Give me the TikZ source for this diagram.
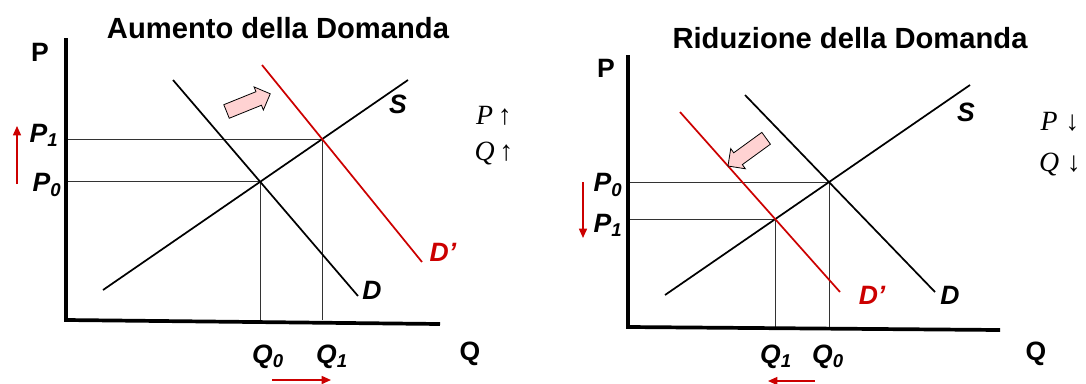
\documentclass[tikz,border=0pt]{standalone}
\usepackage{fontspec}
\setmainfont{Liberation Sans}
\newfontfamily\effectfont{Liberation Serif}
\usetikzlibrary{arrows.meta, shapes.arrows}

\begin{document}
\begin{tikzpicture}[
  x=0.0265cm, y=-0.0265cm,
  axis/.style={line width=2.8pt},
  curve/.style={line width=1.3pt},
  shifted/.style={curve, draw=red!80!black},
  guide/.style={line width=0.6pt, draw=black!80},
  move/.style={line width=1.1pt, draw=red!80!black,
    -{Triangle[length=7pt, width=6pt]}},
  title/.style={font=\fontsize{22}{26}\selectfont\bfseries, inner sep=0pt},
  axlab/.style={font=\fontsize{20}{24}\selectfont\bfseries, inner sep=0pt},
  lab/.style={font=\fontsize{20}{24}\selectfont\bfseries\itshape, inner sep=0pt},
  effect/.style={font=\fontsize{21}{24}\selectfont\effectfont, inner sep=0pt},
  shiftarrow/.style={single arrow, draw=black, fill=pink!70, line width=0.6pt,
    minimum height=1.25cm, minimum width=0.66cm, inner sep=0.16cm,
    single arrow head extend=0.12cm}
]
  \useasboundingbox (0,0) rectangle (1086,383);

  % Aumento della domanda
  \node[title] (title1) at (278,28) {Aumento della Domanda};
  \coordinate (O1) at (66,320);
  \path (103,290) coordinate (s1a) (408,80) coordinate (s1b)
        (173,80) coordinate (d1a) (358,296) coordinate (d1b)
        (262,65) coordinate (n1a) (422,262) coordinate (n1b);
  \coordinate (E10) at (intersection of s1a--s1b and d1a--d1b);
  \coordinate (E11) at (intersection of s1a--s1b and n1a--n1b);
  \draw[guide] (E10 -| O1) -- (E10) -- (E10 |- O1);
  \draw[guide] (E11 -| O1) -- (E11) -- (E11 |- O1);
  \draw[curve] (s1a) -- (s1b);
  \draw[curve] (d1a) -- (d1b);
  \draw[shifted] (n1a) -- (n1b);
  \draw[axis] (66,38) coordinate (y1) -- (O1) -- (440,324) coordinate (x1);

  \node[axlab] (P1ax) at (40,52) {P};
  \node[axlab] (Q1ax) at (470,354) {Q};
  \node[lab] (S1) at (398,104) {S};
  \node[lab] (D1) at (372,290) {D};
  \node[lab, text=red!80!black] (N1) at (443,252) {D'};
  \node[lab] (P1one) at (44,135) {P\textsubscript{1}};
  \node[lab] (P1zero) at (47,185) {P\textsubscript{0}};
  \node[lab] (Q1zero) at (268,357) {Q\textsubscript{0}};
  \node[lab] (Q1one) at (332,357) {Q\textsubscript{1}};
  \draw[move] (17,184) coordinate (pm1a) -- (17,126) coordinate (pm1b);
  \draw[move] (272,380) coordinate (qm1a) -- (331,380) coordinate (qm1b);
  \node[shiftarrow, rotate=22] (push1) at (245,104) {};
  \node[effect] (eff1p) at (494,116) {\textit{P}\,↑};
  \node[effect] (eff1q) at (494,154) {\textit{Q}\,↑};

  % Riduzione della domanda
  \node[title] (title2) at (850,38) {Riduzione della Domanda};
  \coordinate (O2) at (628,327);
  \path (665,295) coordinate (s2a) (970,85) coordinate (s2b)
        (745,95) coordinate (d2a) (935,292) coordinate (d2b)
        (680,112) coordinate (n2a) (840,292) coordinate (n2b);
  \coordinate (E20) at (intersection of s2a--s2b and d2a--d2b);
  \coordinate (E21) at (intersection of s2a--s2b and n2a--n2b);
  \draw[guide] (E20 -| O2) -- (E20) -- (E20 |- O2);
  \draw[guide] (E21 -| O2) -- (E21) -- (E21 |- O2);
  \draw[curve] (s2a) -- (s2b);
  \draw[curve] (d2a) -- (d2b);
  \draw[shifted] (n2a) -- (n2b);
  \draw[axis] (628,55) coordinate (y2) -- (O2) -- (1000,330) coordinate (x2);

  \node[axlab] (P2ax) at (606,68) {P};
  \node[axlab] (Q2ax) at (1036,354) {Q};
  \node[lab] (S2) at (966,112) {S};
  \node[lab] (D2) at (950,295) {D};
  \node[lab, text=red!80!black] (N2) at (872,295) {D'};
  \node[lab] (P2zero) at (608,185) {P\textsubscript{0}};
  \node[lab] (P2one) at (608,225) {P\textsubscript{1}};
  \node[lab] (Q2one) at (776,357) {Q\textsubscript{1}};
  \node[lab] (Q2zero) at (828,357) {Q\textsubscript{0}};
  \draw[move] (583,182) coordinate (pm2a) -- (583,238) coordinate (pm2b);
  \draw[move] (815,381) coordinate (qm2a) -- (768,381) coordinate (qm2b);
  \node[shiftarrow, rotate=216] (push2) at (750,150) {};
  \node[effect] (eff2p) at (1060,122) {\textit{P}\;↓};
  \node[effect] (eff2q) at (1060,165) {\textit{Q}\;↓};
\end{tikzpicture}
\end{document}
